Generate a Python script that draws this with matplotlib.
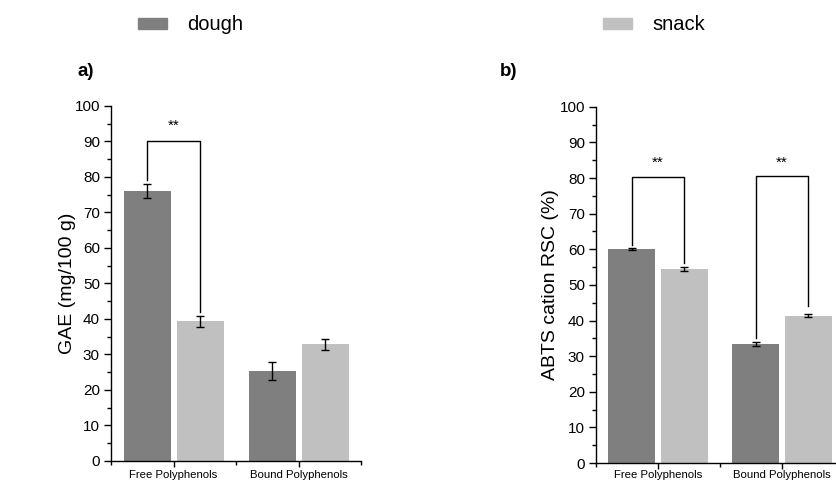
import matplotlib.pyplot as plt
from matplotlib.patches import Patch

plt.rcParams['font.family'] = ['Liberation Sans', 'DejaVu Sans']

# datos
grupos = ['Free Polyphenols', 'Bound Polyphenols']
gae_dough = [76.0, 25.3]
gae_dough_err = [2.0, 2.6]
gae_snack = [39.3, 32.8]
gae_snack_err = [1.5, 1.5]
abts_dough = [60.2, 33.5]
abts_dough_err = [0.3, 0.6]
abts_snack = [54.5, 41.3]
abts_snack_err = [0.6, 0.4]

c_dough = '#7f7f7f'
c_snack = '#c0c0c0'
ancho = 0.376
desp = 0.212

fig = plt.figure(figsize=(8.36, 4.82), dpi=100)
ax_a = fig.add_axes([111 / 836, 0.0436, 250 / 836, 0.737])
ax_b = fig.add_axes([596 / 836, 0.0394, 248 / 836, 0.739])


def panel(ax, dough, dough_err, snack, snack_err, ylabel, lpad, xpad):
    x = range(len(grupos))
    xd = [i - desp for i in x]
    xs = [i + desp for i in x]
    ax.bar(xd, dough, width=ancho, color=c_dough, zorder=2)
    ax.bar(xs, snack, width=ancho, color=c_snack, zorder=2)
    ax.errorbar(xd, dough, yerr=dough_err, fmt='none', ecolor='black',
                elinewidth=1.0, capsize=3, capthick=1.0, zorder=3)
    ax.errorbar(xs, snack, yerr=snack_err, fmt='none', ecolor='black',
                elinewidth=1.0, capsize=3, capthick=1.0, zorder=3)
    ax.set_xlim(-0.5, 1.5)
    ax.set_ylim(0, 100)
    ax.set_yticks(range(0, 101, 10))
    ax.set_yticks(range(5, 100, 10), minor=True)
    ax.set_xticks([0, 1])
    ax.set_xticks([-0.5, 0.5, 1.5], minor=True)
    ax.set_xticklabels(grupos, fontsize=8.2)
    ax.tick_params(axis='y', labelsize=11, length=5, width=1, direction='out', pad=3)
    ax.tick_params(axis='y', which='minor', length=3, width=1)
    ax.tick_params(axis='x', which='major', length=4, width=1, pad=xpad)
    ax.tick_params(axis='x', which='minor', length=3, width=1)
    ax.set_ylabel(ylabel, fontsize=14, labelpad=lpad)
    for s in ['top', 'right']:
        ax.spines[s].set_visible(False)
    for s in ['left', 'bottom']:
        ax.spines[s].set_linewidth(1.0)
    return xd, xs


def corchete(ax, x1, x2, y1, y2, ytop, texto, ytexto):
    ax.plot([x1, x1, x2, x2], [y1, ytop, ytop, y2], color='black', lw=1.0, zorder=4)
    ax.text((x1 + x2) / 2, ytexto, texto, ha='center', va='center', fontsize=11)


xd, xs = panel(ax_a, gae_dough, gae_dough_err, gae_snack, gae_snack_err, 'GAE (mg/100 g)', -1, 2.5)
corchete(ax_a, xd[0], xs[0], 79, 42, 90, '**', 94.5)

xd, xs = panel(ax_b, abts_dough, abts_dough_err, abts_snack, abts_snack_err, 'ABTS cation RSC (%)', 0, 1)
corchete(ax_b, xd[0], xs[0], 61.2, 56.2, 80.2, '**', 84.3)
corchete(ax_b, xd[1], xs[1], 35, 44, 80.6, '**', 84.3)

fig.text(77 / 836, 1 - 71 / 482, 'a)', fontsize=13.5, fontweight='bold', va='center')
fig.text(500 / 836, 1 - 71 / 482, 'b)', fontsize=13.5, fontweight='bold', va='center')

for col, lab, x0 in [(c_dough, 'dough', 138), (c_snack, 'snack', 603)]:
    fig.legend(handles=[Patch(color=col, label=lab)], loc='center left',
               bbox_to_anchor=(x0 / 836, 1 - 25 / 482), frameon=False, fontsize=14.5,
               handlelength=1.45, handleheight=0.45, handletextpad=1.0,
               borderpad=0, borderaxespad=0)

fig.savefig('out.png', dpi=100)
